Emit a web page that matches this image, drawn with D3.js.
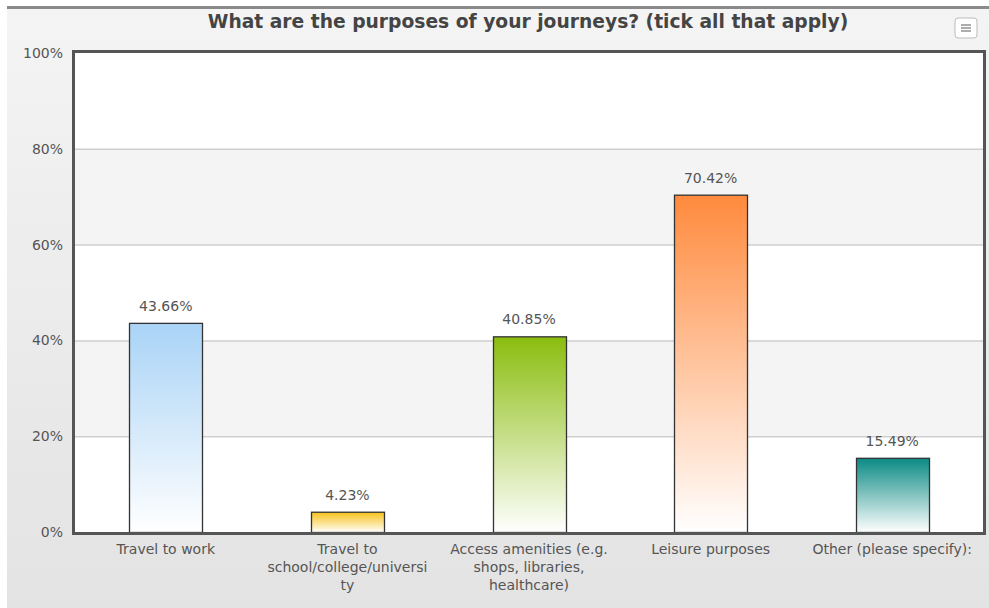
<!DOCTYPE html>
<html>
<head>
<meta charset="utf-8">
<script src="https://cdn.jsdelivr.net/npm/d3@7"></script>
<style>
  html, body { margin: 0; padding: 0; background: #fff; }
  svg { display: block; font-family: 'DejaVu Sans', Verdana, sans-serif; }
</style>
</head>
<body>
<svg id="chart" width="989" height="608"></svg>
<script>
const categories = [
  'Travel to work',
  'Travel to school/college/university',
  'Access amenities (e.g. shops, libraries, healthcare)',
  'Leisure purposes',
  'Other (please specify):'
]
const values = [43.66, 4.23, 40.85, 70.42, 15.49]
const categoryLines = [
  ['Travel to work'],
  ['Travel to', 'school/college/universi', 'ty'],
  ['Access amenities (e.g.', 'shops, libraries,', 'healthcare)'],
  ['Leisure purposes'],
  ['Other (please specify):']
]
const barColors = ['#a9d3f6', '#f7c21a', '#8bbd0f', '#ff8a3d', '#0b8a84']
const yTicks = [0, 20, 40, 60, 80, 100]

const W = 989, H = 608
const plot = { left: 75, right: 983, top: 53, bottom: 532 }

const svg = d3.select('#chart')
const defs = svg.append('defs')

const bg = defs.append('linearGradient').attr('id', 'bg').attr('x1', 0).attr('y1', 0).attr('x2', 0).attr('y2', 1)
bg.append('stop').attr('offset', '0%').attr('stop-color', '#f4f4f4')
bg.append('stop').attr('offset', '100%').attr('stop-color', '#e3e3e3')

barColors.forEach((c, i) => {
  const g = defs.append('linearGradient').attr('id', 'bar' + i).attr('x1', 0).attr('y1', 0).attr('x2', 0).attr('y2', 1)
  g.append('stop').attr('offset', '0%').attr('stop-color', c)
  g.append('stop').attr('offset', '100%').attr('stop-color', '#ffffff')
})

// background
svg.append('rect').attr('x', 7).attr('y', 9).attr('width', W - 7).attr('height', H - 9).attr('fill', 'url(#bg)')
svg.append('rect').attr('x', 7).attr('y', 6).attr('width', W - 7).attr('height', 3).attr('fill', '#8a8a8a')

const x = d3.scaleBand().domain(categories).range([plot.left, plot.right]).paddingInner(0.6).paddingOuter(0.3)
const y = d3.scaleLinear().domain([0, 100]).range([plot.bottom, plot.top])

// alternating bands
svg.append('g').selectAll('rect').data(yTicks.slice(0, -1)).enter().append('rect')
  .attr('x', plot.left).attr('width', plot.right - plot.left)
  .attr('y', d => y(d + 20)).attr('height', d => y(d) - y(d + 20))
  .attr('fill', (d, i) => i % 2 ? '#f4f4f4' : '#ffffff')

// gridlines
svg.append('g').selectAll('line').data(yTicks.slice(1, -1)).enter().append('line')
  .attr('x1', plot.left).attr('x2', plot.right)
  .attr('y1', d => y(d) + 0.5).attr('y2', d => y(d) + 0.5)
  .attr('stroke', '#cfcfcf').attr('stroke-width', 1.5)

// bars
svg.append('g').selectAll('rect').data(values).enter().append('rect')
  .attr('x', (d, i) => Math.round(x(categories[i])) + 0.5)
  .attr('width', Math.round(x.bandwidth()))
  .attr('y', d => y(d) + 0.5)
  .attr('height', d => y(0) - y(d))
  .attr('fill', (d, i) => `url(#bar${i})`)
  .attr('stroke', '#333').attr('stroke-width', 1.3)

// value labels
svg.append('g').selectAll('text').data(values).enter().append('text')
  .attr('x', (d, i) => x(categories[i]) + x.bandwidth() / 2)
  .attr('y', d => y(d) - 12)
  .attr('text-anchor', 'middle').attr('font-size', 14).attr('fill', '#555')
  .text(d => d.toFixed(2) + '%')

// plot border
svg.append('rect')
  .attr('x', plot.left - 1.5).attr('y', plot.top - 1.5)
  .attr('width', plot.right - plot.left + 3).attr('height', plot.bottom - plot.top + 3)
  .attr('fill', 'none').attr('stroke', '#555').attr('stroke-width', 3)

// y axis
const yAxis = svg.append('g').attr('transform', `translate(${plot.left - 9},0)`)
  .call(d3.axisLeft(y).tickValues(yTicks).tickSize(0).tickFormat(d => d + '%'))
yAxis.select('.domain').remove()
yAxis.selectAll('text').attr('font-size', 14).attr('fill', '#555').attr('font-family', "'DejaVu Sans', Verdana, sans-serif")

// x labels
const xl = svg.append('g').selectAll('text').data(categories).enter().append('text')
  .attr('x', d => x(d) + x.bandwidth() / 2)
  .attr('y', plot.bottom + 22)
  .attr('text-anchor', 'middle').attr('font-size', 14).attr('fill', '#555')
xl.selectAll('tspan').data((d, i) => categoryLines[i]).enter().append('tspan')
  .attr('x', function () { return d3.select(this.parentNode).attr('x') })
  .attr('dy', (d, i) => i ? 18 : 0)
  .text(d => d)

// title
svg.append('text').attr('x', 528).attr('y', 28)
  .attr('text-anchor', 'middle').attr('font-size', 18.7).attr('font-weight', 'bold').attr('fill', '#444')
  .text('What are the purposes of your journeys? (tick all that apply)')

// menu button
const btn = svg.append('g').attr('transform', 'translate(955,18)')
btn.append('rect').attr('width', 22).attr('height', 20).attr('rx', 3)
  .attr('fill', '#fff').attr('stroke', '#bbb').attr('stroke-width', 1)
btn.selectAll('line').data([7, 10, 13]).enter().append('line')
  .attr('x1', 6).attr('x2', 16).attr('y1', d => d).attr('y2', d => d)
  .attr('stroke', '#777').attr('stroke-width', 1.2)
</script>
</body>
</html>
